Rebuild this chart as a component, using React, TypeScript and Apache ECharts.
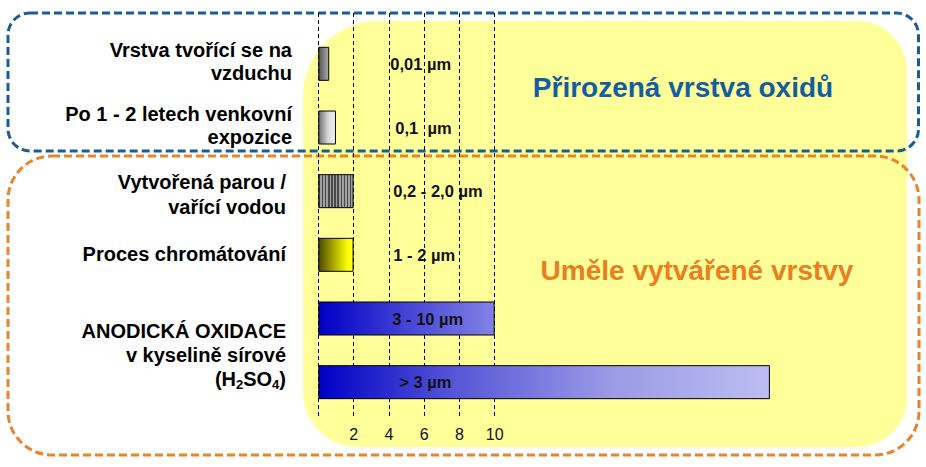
import React, { useEffect, useRef } from "react";
import * as echarts from "echarts";

// ---- data ----
const categories = [
  "Vrstva na vzduchu",
  "Venkovní expozice",
  "Pára / vařící voda",
  "Chromátování",
  "Anodická oxidace 3-10",
  "Anodická oxidace >3",
];
const thickness = [0.62, 1.0, 2.0, 2.0, 10.0, 25.6];
const valueLabels = ["0,01 µm", "0,1  µm", "0,2 - 2,0 µm", "1 - 2 µm", "3 - 10 µm", "> 3 µm"];
const tickLabels = [2, 4, 6, 8, 10];
const rowLabels = [
  "Vrstva tvořící se na\nvzduchu",
  "Po 1 - 2 letech venkovní\nexpozice",
  "Vytvořená parou /\nvařící vodou",
  "Proces chromátování",
  "{b|ANODICKÁ OXIDACE}\n{b|v kyselině sírové}\n{b|(H}{s|2}{b|SO}{s|4}{b|)}",
];
const groupTitles = ["Přirozená vrstva oxidů", "Uměle vytvářené vrstvy"];

// ---- layout / style (not data) ----
const FONT = "'Liberation Sans', Arial, sans-serif";
const X0 = 318.3;
const PX_PER_UNIT = 17.64;
const labelDx = [72, 77, 75, 75, 74, 81];
const rowLabelLayout = [
  { x: 292, y: 61.5, lh: 23 },
  { x: 292, y: 125, lh: 23 },
  { x: 286, y: 194.5, lh: 24.5 },
  { x: 286, y: 254, lh: 24 },
  { x: 286, y: 355, lh: 24 },
];

function lin(stops: [number, string][]) {
  return new echarts.graphic.LinearGradient(
    0, 0, 1, 0,
    stops.map(([offset, color]) => ({ offset, color }))
  );
}

function stripes(n: number, dark: string, light: string) {
  const s: [number, string][] = [];
  for (let i = 0; i < n; i++) {
    s.push([i / n, dark]);
    s.push([(i + 0.45) / n, dark]);
    s.push([(i + 0.45) / n, light]);
    s.push([(i + 1) / n, light]);
  }
  return lin(s);
}

const barFills = [
  lin([[0, "#555555"], [1, "#ababab"]]),
  lin([[0, "#6e6e6e"], [0.55, "#d6d6d6"], [1, "#f4f4f4"]]),
  stripes(11, "#4a4a4a", "#a0a0a0"),
  lin([[0, "#4a4a00"], [0.5, "#b8b800"], [0.85, "#ffff00"], [1, "#ffff30"]]),
  lin([[0, "#0000c6"], [0.5, "#4444d6"], [1, "#8282e6"]]),
  lin([[0, "#0000c6"], [0.3, "#5656d8"], [0.65, "#9a9ae6"], [1, "#bdbdf2"]]),
];

export default function App() {
  const ref = useRef<HTMLDivElement>(null);

  useEffect(() => {
    if (!ref.current) return;
    const chart = echarts.init(ref.current, null, { renderer: "svg" });

    const graphic: any[] = [
      {
        type: "rect",
        z: -10,
        shape: { x: 303, y: 21, width: 604, height: 426, r: [75, 50, 50, 55] },
        style: { fill: "#ffff99" },
      },
      {
        type: "rect",
        z: -5,
        shape: { x: 8, y: 13, width: 910.5, height: 138, r: 22 },
        style: { fill: "none", stroke: "#1a5c98", lineWidth: 3, lineDash: [8, 4] },
      },
      {
        type: "rect",
        z: -5,
        shape: { x: 8, y: 156, width: 911, height: 299, r: 44 },
        style: { fill: "none", stroke: "#e8842c", lineWidth: 3, lineDash: [8, 4] },
      },
      {
        type: "text",
        z: 10,
        x: 683,
        y: 87,
        style: {
          text: groupTitles[0],
          fontFamily: FONT,
          fontSize: 28,
          fontWeight: "bold",
          fill: "#145da0",
          align: "center",
          verticalAlign: "middle",
        },
      },
      {
        type: "text",
        z: 10,
        x: 697,
        y: 270,
        style: {
          text: groupTitles[1],
          fontFamily: FONT,
          fontSize: 28,
          fontWeight: "bold",
          fill: "#ea7e20",
          align: "center",
          verticalAlign: "middle",
        },
      },
    ];

    rowLabels.forEach((t, i) => {
      const L = rowLabelLayout[i];
      graphic.push({
        type: "text",
        z: 10,
        x: L.x,
        y: L.y,
        style: {
          text: t,
          fontFamily: FONT,
          fontSize: 20,
          fontWeight: "bold",
          fill: "#000000",
          align: "right",
          verticalAlign: "middle",
          lineHeight: L.lh,
          rich: {
            b: { fontFamily: FONT, fontSize: 20, fontWeight: "bold", fill: "#000", lineHeight: L.lh },
            s: {
              fontFamily: FONT,
              fontSize: 13,
              fontWeight: "bold",
              fill: "#000",
              lineHeight: 12,
              verticalAlign: "bottom",
            },
          },
        },
      });
    });

    chart.setOption({
      animation: false,
      backgroundColor: "#ffffff",
      graphic,
      grid: [
        { left: X0, top: 13, width: PX_PER_UNIT * 10, height: 404, containLabel: false },
        { left: X0, top: 32, width: PX_PER_UNIT * 30, height: 382, containLabel: false },
      ],
      xAxis: [
        {
          gridIndex: 0,
          type: "value",
          min: 0,
          max: 10,
          interval: 2,
          axisLine: { show: false },
          axisTick: { show: false },
          splitLine: {
            show: true,
            lineStyle: { color: "#000000", width: 1, type: [4, 3] },
          },
          axisLabel: {
            margin: 9,
            fontFamily: FONT,
            fontSize: 16,
            color: "#111111",
            formatter: (v: number) => (tickLabels.includes(v) ? String(v) : ""),
          },
        },
        {
          gridIndex: 1,
          type: "value",
          min: 0,
          max: 30,
          show: false,
          splitLine: { show: false },
        },
      ],
      yAxis: [
        { gridIndex: 0, type: "value", show: false, splitLine: { show: false } },
        {
          gridIndex: 1,
          type: "category",
          data: categories,
          inverse: true,
          show: false,
        },
      ],
      series: [
        {
          type: "bar",
          xAxisIndex: 1,
          yAxisIndex: 1,
          barWidth: 34,
          z: 3,
          data: thickness.map((v, i) => ({
            value: v,
            itemStyle: { color: barFills[i], borderColor: "#000000", borderWidth: 1 },
            label: {
              show: true,
              position: [labelDx[i], "50%"],
              align: "left",
              verticalAlign: "middle",
              formatter: valueLabels[i],
              fontFamily: FONT,
              fontSize: 16.5,
              fontWeight: "bold",
              color: "#111111",
            },
          })),
        },
      ],
    });

    return () => chart.dispose();
  }, []);

  return (
    <div
      ref={ref}
      style={{ position: "fixed", left: 0, top: 0, width: 926, height: 467 }}
    />
  );
}
